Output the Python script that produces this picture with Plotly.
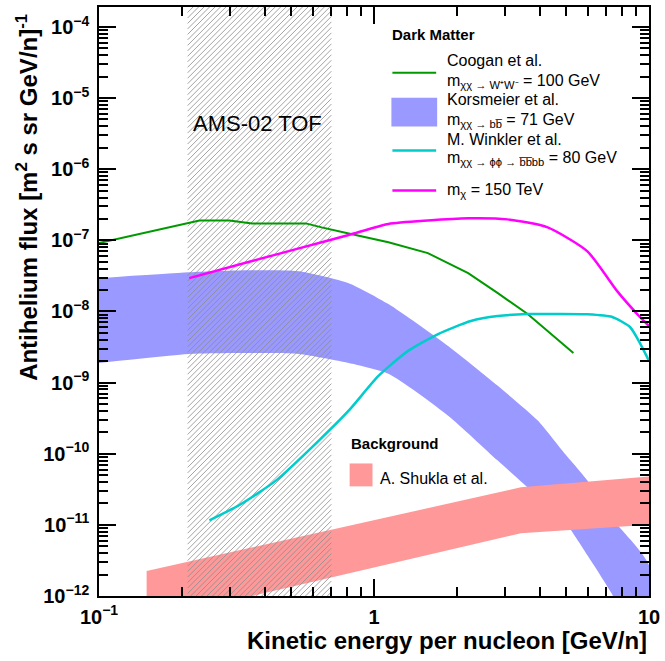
import numpy as np
import plotly.graph_objects as go

# Dark-matter antihelium flux predictions (kinetic energy per nucleon in GeV/n)
coogan_E = [0.1, 0.232, 0.298, 0.36, 0.565, 0.645, 0.809, 1.128, 1.57, 2.20, 2.82, 3.62, 5.31]
coogan_F = [9.2e-8, 1.90e-7, 1.90e-7, 1.73e-7, 1.73e-7, 1.52e-7, 1.25e-7, 9.4e-8, 6.6e-8,
            3.45e-8, 1.81e-8, 9.2e-9, 2.61e-9]

winkler_E = [0.252, 0.324, 0.441, 0.630, 0.809, 1.038, 1.33, 1.71, 2.25, 2.82, 3.62, 4.65,
             5.97, 7.35, 8.53, 9.27, 10.0]
winkler_F = [1.16e-11, 1.9e-11, 4.22e-11, 1.53e-10, 4.03e-10, 1.24e-9, 2.79e-9, 4.82e-9,
             7.35e-9, 8.63e-9, 9.2e-9, 9.2e-9, 9.1e-9, 8.35e-9, 6.05e-9, 3.6e-9, 2.02e-9]

heavy_E = [0.213, 0.352, 0.533, 0.809, 1.128, 1.57, 2.20, 3.06, 4.28, 5.97, 7.66, 9.06, 10.0]
heavy_F = [2.94e-8, 5.0e-8, 7.7e-8, 1.19e-7, 1.70e-7, 1.90e-7, 2.04e-7, 1.97e-7, 1.52e-7,
           7.0e-8, 1.93e-8, 9.2e-9, 6.25e-9]

# Korsmeier et al. uncertainty band
kors_E = [0.1, 0.213, 0.352, 0.533, 0.809, 1.128, 1.86, 2.82, 3.94, 4.9, 5.97, 7.3, 10.0]
kors_hi = [2.94e-8, 3.56e-8, 3.80e-8, 3.68e-8, 2.50e-8, 1.27e-8, 3.27e-9, 9.0e-10, 2.92e-10,
           1.04e-10, 4.2e-11, 1.26e-11, 2.7e-12]
kors_lo = [1.89e-9, 2.53e-9, 2.61e-9, 2.53e-9, 1.89e-9, 1.33e-9, 3.43e-10, 8.0e-11, 2.5e-11,
           1.16e-11, 3.75e-12, 1.1e-12, 1.0e-13]

# Secondary (background) band, A. Shukla et al.
shukla_E = [0.149, 0.68, 3.42, 10.0]
shukla_hi = [2.24e-12, 8.4e-12, 3.37e-11, 4.8e-11]
shukla_lo = [4.5e-13, 1.79e-12, 7.6e-12, 1.0e-11]

# AMS-02 TOF energy window
tof_range = [0.21, 0.70]

x_ticks = [0.1, 1, 10]
x_ticktext = ["10<sup>\u22121</sup>", "1", "10"]
y_exps = list(range(-12, -3))
y_ticks = [10.0 ** e for e in y_exps]
y_ticktext = ["10<sup>\u2212%d</sup>" % (-e) for e in y_exps]

FONT = "Liberation Sans"
W, H = 665, 661
L, R, T, B = 99, 652, 5, 596
X_RANGE = [-1.0, 1.0]
Y_RANGE = [-12.0, -3.72]


def px(x):
    return (x - L) / (R - L)


def py(y):
    return (B - y) / (B - T)


def hatch_lines(e_lo, e_hi, spacing=5.5):
    """Diagonal '/' hatch lines filling the energy window, as one broken line."""
    ax = (R - L) / (X_RANGE[1] - X_RANGE[0])   # px per decade in x
    ay = (B - T) / (Y_RANGE[1] - Y_RANGE[0])   # px per decade in y
    u0 = (np.log10(e_lo) - X_RANGE[0]) * ax     # window edges in px from left
    u1 = (np.log10(e_hi) - X_RANGE[0]) * ax
    hgt = B - T
    xs, ys = [], []
    # lines v = u - c (v measured upward from the bottom of the frame)
    for c in np.arange(u0 - hgt, u1, spacing):
        ua, ub = max(u0, c), min(u1, c + hgt)
        if ub <= ua:
            continue
        for u in (ua, ub):
            v = u - c
            xs.append(10 ** (X_RANGE[0] + u / ax))
            ys.append(10 ** (Y_RANGE[0] + v / ay))
        xs.append(None)
        ys.append(None)
    return xs, ys


fig = go.Figure()

fig.add_trace(go.Scatter(
    x=kors_E + kors_E[::-1], y=kors_hi + kors_lo[::-1],
    fill="toself", fillcolor="#9999ff", mode="lines",
    line=dict(width=0, shape="spline", smoothing=0.6), hoverinfo="skip"))

fig.add_trace(go.Scatter(
    x=shukla_E + shukla_E[::-1], y=shukla_hi + shukla_lo[::-1],
    fill="toself", fillcolor="#ff9999", mode="lines",
    line=dict(width=0), hoverinfo="skip"))

hx, hy = hatch_lines(*tof_range)
fig.add_trace(go.Scatter(x=hx, y=hy, mode="lines", connectgaps=False,
                         line=dict(color="#8c8c8c", width=0.8), hoverinfo="skip"))

fig.add_trace(go.Scatter(x=coogan_E, y=coogan_F, mode="lines",
                         line=dict(color="#009900", width=2)))
fig.add_trace(go.Scatter(x=winkler_E, y=winkler_F, mode="lines",
                         line=dict(color="#00cccc", width=2.5, shape="spline", smoothing=0.6)))
fig.add_trace(go.Scatter(x=heavy_E, y=heavy_F, mode="lines",
                         line=dict(color="#ff00ff", width=2.5, shape="spline", smoothing=0.6)))

minor_x = [k * 10.0 ** e for e in (-1, 0) for k in range(2, 10)]
minor_y = [k * 10.0 ** e for e in range(-12, -3) for k in range(2, 10)]

tickfont = dict(family=FONT, size=20, color="black", weight="bold")
fig.update_xaxes(
    type="log", range=X_RANGE, tickvals=x_ticks, ticktext=x_ticktext,
    ticks="inside", ticklen=17, tickwidth=1.5, tickcolor="black",
    showline=True, linecolor="black", linewidth=1.5, mirror="allticks",
    showgrid=False, zeroline=False, tickfont=tickfont, ticklabelstandoff=2,
    minor=dict(tickvals=minor_x, ticks="inside", ticklen=9, tickwidth=1.5,
               tickcolor="black", showgrid=False))
fig.update_yaxes(
    type="log", range=Y_RANGE, tickvals=y_ticks, ticktext=y_ticktext,
    ticks="inside", ticklen=17, tickwidth=1.5, tickcolor="black",
    showline=True, linecolor="black", linewidth=1.5, mirror="allticks",
    showgrid=False, zeroline=False, tickfont=tickfont, ticklabelstandoff=4,
    minor=dict(tickvals=minor_y, ticks="inside", ticklen=9, tickwidth=1.5,
               tickcolor="black", showgrid=False))

ann = []


def text(x, y, s, size=16, xanchor="left", bold=False, **kw):
    ann.append(dict(x=px(x), y=py(y), xref="paper", yref="paper", text=s,
                    showarrow=False, xanchor=xanchor, yanchor=kw.pop("yanchor", "middle"),
                    font=dict(family=FONT, size=size, color="black",
                              weight="bold" if bold else "normal"), **kw))


text(258, 122, "AMS-02 TOF", size=22, xanchor="center")
text(392, 33, "Dark Matter", size=15, bold=True)
text(447, 59, "Coogan et al.")
text(447, 80, "m<sub>\u03c7\u03c7 \u2192 W\u207aW\u207b</sub> = 100 GeV")
text(447, 98, "Korsmeier et al.")
text(447, 119, "m<sub>\u03c7\u03c7 \u2192 bb\u0305</sub> = 71 GeV")
text(447, 138, "M. Winkler et al.")
text(447, 157, "m<sub>\u03c7\u03c7 \u2192 \u03d5\u03d5 \u2192 b\u0305b\u0305bb</sub> = 80 GeV")
text(447, 189, "m<sub>\u03c7</sub> = 150 TeV")
text(350, 443, "Background", size=15, bold=True)
text(380, 478, "A. Shukla et al.")

# axis titles
text(652, 641, "Kinetic energy per nucleon [GeV/n]", size=24, xanchor="right", bold=True)
text(27, 10, "Antihelium flux [m<sup>2</sup> s sr GeV/n]<sup>-1</sup>", size=24,
     xanchor="center", bold=True, yanchor="top", textangle=-90)

shapes = []


def seg(x0, x1, y, color, w):
    shapes.append(dict(type="line", xref="paper", yref="paper", x0=px(x0), x1=px(x1),
                       y0=py(y), y1=py(y), line=dict(color=color, width=w)))


def box(x0, x1, y0, y1, color):
    shapes.append(dict(type="rect", xref="paper", yref="paper", x0=px(x0), x1=px(x1),
                       y0=py(y0), y1=py(y1), fillcolor=color, line=dict(width=0)))


seg(394, 438, 71, "#009900", 2)
box(393, 439, 96, 125, "#9999ff")
seg(394, 438, 149, "#00cccc", 2.5)
seg(394, 438, 189, "#ff00ff", 2.5)
box(351, 374, 463, 486, "#ff9999")

fig.update_layout(
    width=W, height=H, margin=dict(l=L, r=W - R, t=T, b=H - B),
    paper_bgcolor="white", plot_bgcolor="white", showlegend=False,
    annotations=ann, shapes=shapes)

fig.write_html("out.html")
